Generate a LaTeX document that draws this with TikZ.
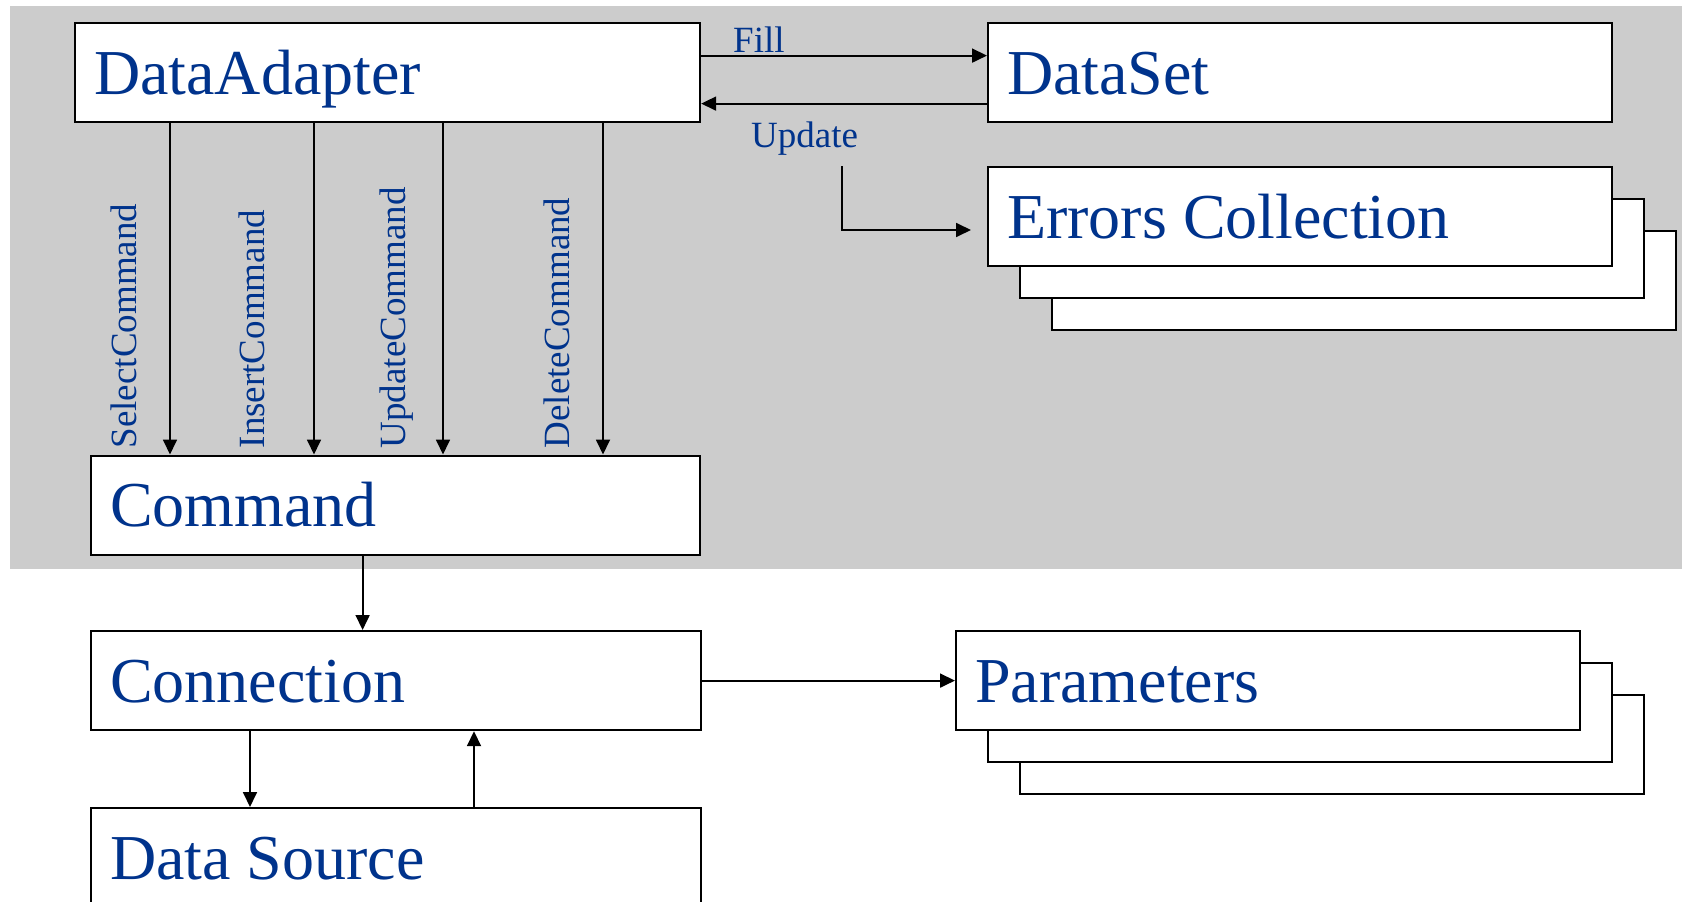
\documentclass[tikz,border=0pt]{standalone}
\usepackage{fontspec}
\setmainfont{Liberation Serif}
\usetikzlibrary{arrows.meta}
\definecolor{tblue}{RGB}{0,51,140}
\definecolor{bggray}{RGB}{204,204,204}
\newcommand\bigf{\fontsize{64}{70}\selectfont}
\newcommand\smallf{\fontsize{37}{40}\selectfont}
\begin{document}
\begin{tikzpicture}[x=1pt,y=-1pt,
  box/.style={draw=black, line width=2.2pt, fill=white, anchor=north west,
    minimum height=99pt, inner xsep=19pt, inner ysep=0pt,
    text height=43pt, text depth=0pt, align=flush left, font=\bigf, text=tblue},
  backbox/.style={draw=black, line width=2.2pt, fill=white, anchor=north west,
    minimum height=99pt, minimum width=624pt, inner sep=0pt},
  arr/.style={draw=black, line width=1.8pt, -{Triangle[length=15pt,width=14pt]}},
  lbl/.style={font=\smallf, text=tblue, inner sep=0pt, anchor=base west},
  vlbl/.style={lbl, rotate=90}]
\useasboundingbox (0,0) rectangle (1682,902);
\clip (0,0) rectangle (1682,902);
\fill[bggray] (10,6) rectangle (1682,569);

% stacked back boxes
\node[backbox] (err3) at (1051,230) {};
\node[backbox] (err2) at (1019,198) {};
\node[backbox] (par3) at (1019,694) {};
\node[backbox] (par2) at (987,662) {};

% main boxes
\node[box, text width=587pt] (da) at (74,22) {DataAdapter};
\node[box, text width=586pt] (ds) at (987,22) {DataSet};
\node[box, text width=586pt] (err) at (987,166) {Errors Collection};
\node[box, text width=571pt] (cmd) at (90,454.5) {Command};
\node[box, text width=571.5pt] (conn) at (90,630) {Connection};
\node[box, text width=586pt] (par) at (955,630) {Parameters};
\node[box, text width=571.5pt] (src) at (90,807) {Data Source};

% Fill / Update
\draw[arr] ([yshift=17pt]da.east) -- ([yshift=17pt]ds.west);
\draw[arr] ([yshift=-31pt]ds.west) -- ([yshift=-31pt]da.east);
\node[lbl] (fill) at (733,52) {Fill};
\node[lbl] (upd) at (751,147) {Update};
\coordinate (u1) at (842,166);
\coordinate (u2) at (971,230);
\draw[arr] (u1) |- (u2);

% command arrows
\coordinate (c1) at (170,0);
\coordinate (c2) at (314,0);
\coordinate (c3) at (443,0);
\coordinate (c4) at (603,0);
\foreach \c in {c1,c2,c3,c4}
  \draw[arr] (da.south -| \c) -- (cmd.north -| \c);
\node[vlbl] (l1) at (136,448.5) {SelectCommand};
\node[vlbl] (l2) at (264,448.5) {InsertCommand};
\node[vlbl] (l3) at (405,448.5) {UpdateCommand};
\node[vlbl] (l4) at (569,448.5) {DeleteCommand};

% lower part
\coordinate (c5) at (362.6,0);
\coordinate (c6) at (250,0);
\coordinate (c7) at (474,0);
\draw[arr] (cmd.south -| c5) -- (conn.north -| c5);
\draw[arr] (conn.south -| c6) -- (src.north -| c6);
\draw[arr] (src.north -| c7) -- (conn.south -| c7);
\draw[arr] (conn.east) -- (par.west);
\end{tikzpicture}
\end{document}
